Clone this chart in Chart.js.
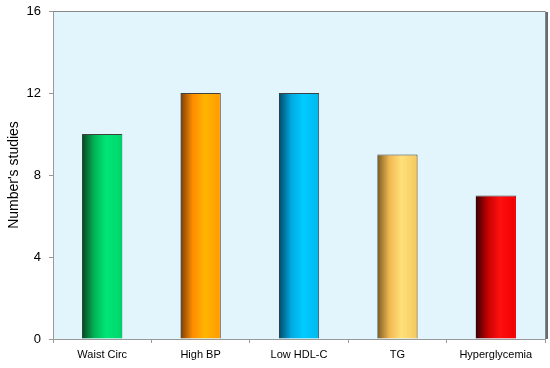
<!DOCTYPE html>
<html><head><meta charset="utf-8">
<script src="https://cdn.jsdelivr.net/npm/chart.js@4.4.1/dist/chart.umd.min.js"></script>
<style>html,body{margin:0;padding:0;background:#fff}#wrap{width:550px;height:368px}</style>
</head><body><div id="wrap"><canvas id="c" width="550" height="368"></canvas></div>
<script>
const categories = ["Waist Circ", "High BP", "Low HDL-C", "TG", "Hyperglycemia"];
const studies = [10, 12, 12, 9, 7];
const yTicks = [0, 4, 8, 12, 16];
const gradStops = [
  ["#07471f", "#00b455", "#00e676", "#00d46c"],
  ["#7a3c00", "#ff8c00", "#ffb400", "#ff9a00"],
  ["#004a6a", "#00a8e0", "#00ccff", "#00b8f0"],
  ["#7a5a20", "#f0b850", "#ffe07a", "#f5c860"],
  ["#3a0000", "#c80000", "#ff1010", "#f00000"]
];
const FONT = "'Liberation Sans',Arial,sans-serif";

const bgPlugin = {
  id: 'bg',
  beforeDraw(chart) {
    const {ctx, chartArea: a} = chart;
    ctx.save();
    ctx.fillStyle = '#e2f5fd';
    ctx.fillRect(a.left, a.top, a.width, a.height);
    ctx.restore();
  },
  afterDraw(chart) {
    const {ctx, chartArea: a} = chart;
    ctx.save();
    ctx.strokeStyle = '#888888';
    ctx.lineWidth = 1;
    ctx.beginPath();
    ctx.moveTo(a.left, a.top + 0.5);
    ctx.lineTo(a.right + 0.5, a.top + 0.5);
    ctx.lineTo(a.right + 0.5, a.bottom);
    ctx.stroke();
    ctx.strokeStyle = '#6a6a6a';
    ctx.lineWidth = 2;
    ctx.beginPath();
    ctx.moveTo(a.right + 2, a.top + 1);
    ctx.lineTo(a.right + 2, a.bottom);
    ctx.stroke();
    ctx.restore();
  }
};

function barGradient(c) {
  const chart = c.chart;
  const a = chart.chartArea;
  const s = gradStops[c.dataIndex];
  if (!a) return s[2];
  const x = chart.scales.x.getPixelForValue(c.dataIndex);
  const w = (a.width / categories.length) * 0.41;
  const g = chart.ctx.createLinearGradient(x - w / 2, 0, x + w / 2, 0);
  g.addColorStop(0, s[0]);
  g.addColorStop(0.3, s[1]);
  g.addColorStop(0.6, s[2]);
  g.addColorStop(1, s[3]);
  return g;
}

new Chart(document.getElementById('c'), {
  type: 'bar',
  data: {
    labels: categories,
    datasets: [{
      data: studies,
      backgroundColor: barGradient,
      borderColor: '#404040',
      borderWidth: {top: 1, left: 0, right: 1, bottom: 0},
      categoryPercentage: 1,
      barPercentage: 0.41
    }]
  },
  options: {
    responsive: false,
    animation: false,
    layout: {padding: {top: 11, right: 5, left: 6, bottom: 0}},
    plugins: {legend: {display: false}, tooltip: {enabled: false}},
    scales: {
      x: {
        grid: {display: true, drawOnChartArea: false, offset: true, tickLength: 4, color: '#999999'},
        border: {color: '#999999'},
        ticks: {color: '#000', font: {family: FONT, size: 11}, padding: 5, maxRotation: 0},
        afterFit(s) { s.height = 29; s.paddingLeft = 0; s.paddingRight = 0; }
      },
      y: {
        min: 0, max: 16,
        afterBuildTicks(s) { s.ticks = yTicks.map(v => ({value: v})); },
        grid: {display: true, drawOnChartArea: false, tickLength: 4, color: '#999999'},
        border: {color: '#999999'},
        ticks: {color: '#000', font: {family: FONT, size: 13}, padding: 8},
        title: {display: true, text: "Number's studies", color: '#000', font: {family: FONT, size: 14}, padding: {top: 0, bottom: 2}},
        afterFit(s) { s.width = 47; s.paddingTop = 0; s.paddingBottom = 0; }
      }
    }
  },
  plugins: [bgPlugin]
});
</script></body></html>
